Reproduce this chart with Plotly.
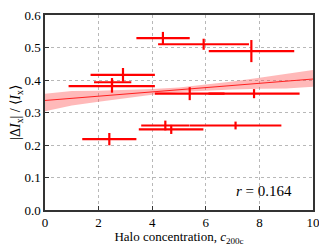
import plotly.graph_objects as go

# data points: concentration, ratio, x-errors (minus/plus), y-error
conc = [4.40, 5.92, 7.70, 2.91, 2.50, 2.50, 5.40, 7.80, 4.49, 7.11, 4.71, 2.40]
ratio = [0.529, 0.510, 0.489, 0.416, 0.393, 0.381, 0.358, 0.358, 0.260, 0.260, 0.248, 0.218]
xerr_minus = [0.99, 1.70, 1.59, 1.21, 0.67, 1.62, 1.30, 1.70, 0.90, 1.71, 1.21, 1.01]
xerr_plus = [1.00, 1.69, 1.60, 1.19, 0.72, 1.60, 1.30, 1.70, 0.90, 1.71, 1.20, 1.01]
yerr = [0.019, 0.017, 0.034, 0.021, 0.013, 0.020, 0.020, 0.014, 0.015, 0.012, 0.014, 0.019]

# fit line and confidence band
fit_x = [0, 1, 2, 3, 4, 5, 6, 7, 8, 9, 10]
fit_y = [0.337, 0.3436, 0.3502, 0.3568, 0.3634, 0.370, 0.3766, 0.3832, 0.3898, 0.3964, 0.403]
band_lo = [0.304, 0.3214, 0.3331, 0.3447, 0.3547, 0.3630, 0.3679, 0.3711, 0.3727, 0.3742, 0.379]
band_hi = [0.358, 0.3658, 0.3673, 0.3689, 0.3721, 0.3770, 0.3853, 0.3953, 0.4069, 0.4186, 0.431]

x_ticks = [0, 2, 4, 6, 8, 10]
y_ticks = [0.0, 0.1, 0.2, 0.3, 0.4, 0.5, 0.6]
y_tick_labels = ["0.0", "0.1", "0.2", "0.3", "0.4", "0.5", "0.6"]

font_family = "Liberation Serif"

fig = go.Figure()
fig.add_trace(go.Scatter(x=fit_x, y=band_lo, mode="lines", line=dict(width=0),
                         showlegend=False, hoverinfo="skip"))
fig.add_trace(go.Scatter(x=fit_x, y=band_hi, mode="lines", line=dict(width=0),
                         fill="tonexty", fillcolor="rgba(255,80,80,0.4)",
                         showlegend=False, hoverinfo="skip"))
fig.add_trace(go.Scatter(x=fit_x, y=fit_y, mode="lines", line=dict(color="#ff2020", width=1),
                         showlegend=False))
fig.add_trace(go.Scatter(
    x=conc, y=ratio, mode="markers",
    marker=dict(size=1, color="rgba(0,0,0,0)"),
    error_x=dict(type="data", symmetric=False, array=xerr_plus, arrayminus=xerr_minus,
                 color="#ff0000", thickness=2.2, width=0),
    error_y=dict(type="data", array=yerr, color="#ff0000", thickness=2.2, width=0),
    showlegend=False))

fig.add_annotation(x=9.3, y=0.06, xref="x", yref="y", xanchor="right", yanchor="middle",
                   text="<i>r</i> = 0.164", showarrow=False,
                   font=dict(family=font_family, size=15, color="black"))

axis_common = dict(showline=True, mirror=True, linecolor="#333333", linewidth=1.5,
                   showgrid=True, gridcolor="#b8b8b8", griddash="dot", gridwidth=1,
                   ticks="inside", ticklen=4, tickcolor="#333333", zeroline=False,
                   automargin=False, ticklabeloverflow="allow",
                   tickfont=dict(family=font_family, size=13, color="black"))

fig.update_xaxes(range=[0, 10], tickvals=x_ticks, ticktext=[str(t) for t in x_ticks],
                 title=dict(text="Halo concentration, <i>c</i><sub>200c</sub>",
                            font=dict(family=font_family, size=13, color="black"),
                            standoff=3),
                 **axis_common)
fig.update_yaxes(range=[0, 0.6], tickvals=y_ticks, ticktext=y_tick_labels,
                 title=dict(text="|Δ<i>I</i><sub>x</sub>| / ⟨<i>I</i><sub>x</sub>⟩",
                            font=dict(family=font_family, size=14, color="black"),
                            standoff=4),
                 **axis_common)

# page body adds an 8px offset, so the figure is sized to the remaining window
fig.update_layout(width=319, height=238, margin=dict(l=37, r=14, t=7, b=36),
                  paper_bgcolor="white", plot_bgcolor="white",
                  font=dict(family=font_family))

fig.write_html("out.html")
